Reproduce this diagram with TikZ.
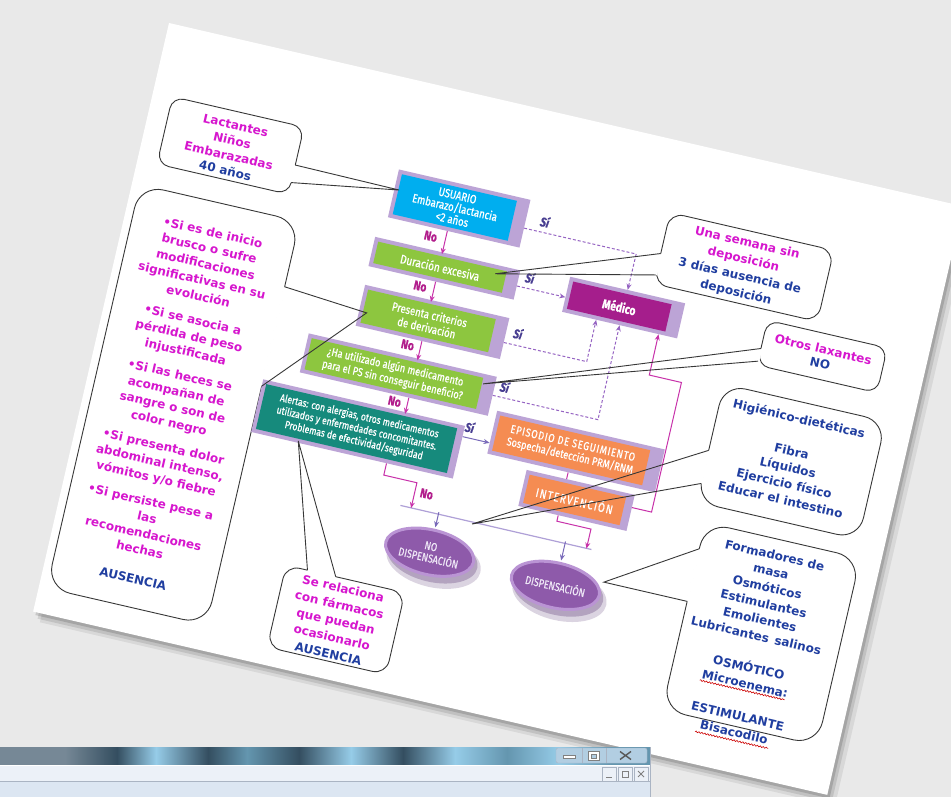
\documentclass[tikz,border=0pt]{standalone}
\usepackage{fontspec}
\setmainfont{DejaVu Sans}
\newfontfamily\flowfont[FakeStretch=0.8, FakeBold=0.7]{Fira Sans}
\usetikzlibrary{arrows.meta,shapes.geometric,decorations.pathmorphing}
\definecolor{bgcol}{RGB}{233,233,233}
\definecolor{magtxt}{RGB}{214,22,206}
\definecolor{bluetxt}{RGB}{32,62,160}
\definecolor{cyanbox}{RGB}{0,174,239}
\definecolor{greenbox}{RGB}{141,198,63}
\definecolor{tealbox}{RGB}{22,138,124}
\definecolor{medbox}{RGB}{165,30,140}
\definecolor{orbox}{RGB}{245,140,82}
\definecolor{lavframe}{RGB}{188,164,214}
\definecolor{dashcol}{RGB}{150,100,195}
\definecolor{magline}{RGB}{200,50,170}
\definecolor{sicol}{RGB}{72,62,145}
\definecolor{nocol}{RGB}{178,30,140}
\definecolor{ellfill}{RGB}{142,90,170}
\definecolor{ellring}{RGB}{186,148,212}
\definecolor{ellshadow}{RGB}{60,20,90}
\definecolor{elltxt}{RGB}{238,230,246}
\definecolor{barcol}{RGB}{175,160,215}
\definecolor{lavarrcol}{RGB}{120,105,185}
\definecolor{outl}{RGB}{55,55,55}
\definecolor{aeA}{RGB}{118,136,150}
\definecolor{aeD}{RGB}{52,78,96}
\definecolor{aeL}{RGB}{150,204,232}
\definecolor{aeM}{RGB}{100,150,175}
\definecolor{winrowa}{RGB}{236,241,248}
\definecolor{winrowb}{RGB}{220,230,242}
\definecolor{winedge}{RGB}{170,180,195}
\definecolor{winbtn}{RGB}{178,206,226}
\pgfdeclarehorizontalshading{aeroshade}{100bp}{color(0bp)=(aeA); color(25bp)=(aeA); color(30bp)=(aeA); color(34bp)=(aeD); color(37bp)=(aeL); color(41bp)=(aeD); color(44bp)=(aeM); color(48bp)=(aeD); color(52bp)=(aeL); color(56bp)=(aeD); color(60bp)=(aeL); color(64bp)=(aeM); color(68bp)=(aeL); color(72bp)=(aeM); color(75bp)=(aeM); color(100bp)=(aeM)}

\newcommand\flowbx[9]{%
  \fill[lavframe] (#3-4,#4-4) rectangle (#5+#7,#6+4);
  \node[flowbox, fill=#2, minimum width={#5-#3}, minimum height={#6-#4}, font={\flowfont#8\selectfont}] (#1) at ({(#3+#5)/2},{(#4+#6)/2}) {#9};}

\begin{document}
\begin{tikzpicture}[x=1pt,y=-1pt,
  flowbox/.style={rectangle, inner sep=1pt, text=white, align=center},
  callbox/.style={draw=outl, line width=0.9pt, fill=white},
  cover/.style={draw=white, line width=2.6pt},
  ptr/.style={draw=outl, line width=0.9pt, line join=miter},
  calltxt/.style={font=\bfseries\fontsize{12}{#1}\selectfont, align=center, inner sep=0pt},
  nolab/.style={font=\flowfont\bfseries\fontsize{13}{13}\selectfont, text=nocol, inner sep=0pt},
  silab/.style={font=\flowfont\bfseries\itshape\fontsize{13}{13}\selectfont, text=sicol, inner sep=0pt},
  magarr/.style={draw=magline, line width=1pt, -{Stealth[length=6pt,width=5pt]}},
  magln/.style={draw=magline, line width=1pt},
  dasharr/.style={draw=dashcol, line width=1pt, dash pattern=on 3pt off 2pt, -{Stealth[length=6pt,width=5pt]}},
  lavarr/.style={draw=lavarrcol, line width=1pt, -{Stealth[length=6pt,width=5pt]}},
  ellnode/.style={ellipse, fill=ellfill, draw=ellring, line width=3pt, minimum width=90, minimum height=45, inner sep=0pt, align=center, text=elltxt, font=\flowfont\fontsize{11.5}{12}\selectfont},
  squig/.style={draw=red!80!black, line width=0.6pt, decorate, decoration={snake, amplitude=0.7pt, segment length=3pt}}]
\useasboundingbox (0,0) rectangle (951,797);
\clip (0,0) rectangle (951,797);
\fill[bgcol] (0,0) rectangle (951,797);

\begin{scope}[shift={(169,23)}, rotate=-13, transform shape]
  % page shadow and page
  \fill[black, opacity=0.07] (9,9) rectangle (825,613);
  \fill[black, opacity=0.10] (6,6) rectangle (821,610);
  \fill[black, opacity=0.14] (3,3) rectangle (818,607);
  \fill[white] (0,0) rectangle (815,604);

  % callout boxes
  \draw[callbox, rounded corners=12pt] (20,71) rectangle (155,140);
  \draw[cover] (155,110) -- (155,128);
  \draw[callbox, rounded corners=24pt] (8,164) rectangle (172,578);
  \draw[cover] (172,231) -- (172,333);
  \draw[callbox, rounded corners=14pt] (531,72) rectangle (699,145);
  \draw[cover] (531,114) -- (531,136);
  \draw[callbox, rounded corners=12pt] (650,155) rectangle (773,201);
  \draw[cover] (650,184) -- (650,197);
  \draw[callbox, rounded corners=22pt] (622,227) rectangle (788,348);
  \draw[cover] (622,295) -- (622,329);
  \draw[callbox, rounded corners=24pt] (635,366) rectangle (794,558);
  \draw[cover] (635,393) -- (635,447);
  \draw[callbox, rounded corners=14pt] (236,502) rectangle (358,586);
  \draw[cover] (258,502) -- (287,502);

  % flowchart boxes
  \flowbx{usuario}{cyanbox}{261}{95}{379}{136}{13}{\fontsize{12}{12.3}}{USUARIO\\Embarazo/lactancia\\<2 años}
  \flowbx{durac}{greenbox}{253}{166}{385}{188}{13}{\fontsize{12.5}{13}}{Duración excesiva}
  \flowbx{presenta}{greenbox}{254}{215}{385}{249}{13}{\fontsize{12}{13.5}}{Presenta criterios\\de derivación}
  \flowbx{ha}{greenbox}{210}{275}{386}{307}{13}{\fontsize{11.5}{13.5}}{¿Ha utilizado algún medicamento\\para el PS sin conseguir beneficio?}
  \flowbx{alertas}{tealbox}{176}{330}{372}{376}{7}{\fontsize{10.7}{12.5}}{Alertas: con alergias, otros medicamentos\\utilizados y enfermedades concomitantes.\\Problemas de efectividad/seguridad}
  \flowbx{medico}{medbox}{452}{161}{553}{189}{13}{\bfseries\fontsize{13}{13}}{Médico}
  \flowbx{episodio}{orbox}{411}{308}{565}{344}{14}{\fontsize{11.5}{13}}{{\addfontfeature{LetterSpace=7}EPISODIO DE SEGUIMIENTO}\\Sospecha/detección PRM/RNM}
  \flowbx{interv}{orbox}{453}{359}{552}{388}{8}{\fontsize{12.5}{13}}{\addfontfeature{LetterSpace=9}INTERVENCIÓN}

  % ellipses
  \fill[ellshadow, opacity=0.18] (379,465) ellipse [x radius=48, y radius=26];
  \fill[ellshadow, opacity=0.25] (377,462) ellipse [x radius=46, y radius=24];
  \fill[ellshadow, opacity=0.18] (509,469) ellipse [x radius=48, y radius=26];
  \fill[ellshadow, opacity=0.25] (507,466) ellipse [x radius=46, y radius=24];
  \node[ellnode] (nodisp) at (373,457) {NO\\DISPENSACIÓN};
  \node[ellnode] (disp) at (503,461) {DISPENSACIÓN};

  % bar
  \coordinate (barL) at (334,418);
  \coordinate (barR) at (530,418);
  \draw[barcol, line width=1.2pt] (barL) -- (barR);

  % No arrows
  \draw[magarr] ([xshift=-2pt,yshift=-4pt]usuario.south) -- ([xshift=-1pt,yshift=2pt]durac.north);
  \draw[magarr] ([xshift=-1pt,yshift=-4pt]durac.south) -- ([xshift=-1.5pt,yshift=2pt]presenta.north);
  \draw[magarr] ([xshift=-1.5pt,yshift=-4pt]presenta.south) -- ([xshift=20pt,yshift=2pt]ha.north);
  \draw[magarr] ([xshift=20pt,yshift=-4pt]ha.south) -- ([xshift=44pt,yshift=2pt]alertas.north);
  \draw[magarr] ([xshift=37pt,yshift=-4pt]alertas.south) -- ++(0,12) -- ++(34,0) -- ++(0,26);
  \draw[magln] ([xshift=2pt,yshift=-4pt]episodio.south) -- ([xshift=-12.5pt,yshift=4pt]interv.north);
  \draw[magarr] ([xshift=-12.5pt,yshift=-4pt]interv.south) -- ++(0,6) -- ++(35,0) -- ++(0,20);
  \draw[magarr] ([xshift=8pt,yshift=5.5pt]interv.east) -- ++(20,0) -- ++(0,-133) -- ++(-33,0) -- ([xshift=44.5pt,yshift=-4pt]medico.south);

  % dashed Si arrows
  \draw[dasharr] ([xshift=13pt,yshift=-4.5pt]usuario.east) -- ++(115,0) -- ([xshift=4.5pt,yshift=4pt]medico.north);
  \draw[dasharr] ([xshift=13pt,yshift=-1pt]durac.east) -- ([xshift=-4pt,yshift=-3pt]medico.west);
  \draw[dasharr] ([xshift=13pt,yshift=-4pt]presenta.east) -- ++(85,0) -- ([xshift=-19.5pt,yshift=-4pt]medico.south);
  \draw[dasharr] ([xshift=13pt,yshift=1pt]ha.east) -- ++(108,0) -- ([xshift=4.5pt,yshift=-4pt]medico.south);
  \draw[lavarr] ([xshift=7pt,yshift=16pt]alertas.east) -- ([xshift=-4pt,yshift=-11pt]episodio.west);
  \draw[lavarr] ([yshift=17pt]nodisp.north) -- ([yshift=1.5pt]nodisp.north);
  \draw[lavarr] ([yshift=21pt]disp.north) -- ([yshift=1.5pt]disp.north);

  % labels
  \node[nolab] (no1) at (303,149) {No};
  \node[nolab] (no2) at (304,200) {No};
  \node[nolab] (no3) at (305,260) {No};
  \node[nolab] (no4) at (305,318) {No};
  \node[nolab] (no5) at (357,401) {No};
  \node[silab] (si1) at (411,109) {Sí};
  \node[silab] (si2) at (409,167) {Sí};
  \node[silab] (si3) at (410,224) {Sí};
  \node[silab] (si4) at (409,279) {Sí};
  \node[silab] (si5) at (384,326) {Sí};

  % pointer tips
  \coordinate (tLact) at ([xshift=1pt,yshift=4.5pt]usuario.west);
  \coordinate (tUna) at ([xshift=-11pt,yshift=6pt]durac.east);
  \coordinate (tOtros) at ([xshift=1pt,yshift=10pt]ha.east);
  \coordinate (tHig) at (408,420);
  \coordinate (tForm) at ([yshift=14pt]disp.east);
  \coordinate (tBig) at ([xshift=4pt,yshift=-6pt]presenta.west);
  \coordinate (tSerel) at ([xshift=-54pt,yshift=-2pt]alertas.south);

  \draw[ptr] (155,110) -- (tLact) -- (155,128);
  \draw[ptr] (172,231) -- (tBig) -- (172,333);
  \draw[ptr] (531,114) -- (tUna) -- (531,136);
  \draw[ptr] (650,184) -- (tOtros) -- (650,197);
  \draw[ptr] (622,295) -- (tHig) -- (622,329);
  \draw[ptr] (635,393) -- (tForm) -- (635,447);
  \draw[ptr] (258,502) -- (tSerel) -- (287,502);

  % callout texts
  \node[calltxt=15.5, text=magtxt] (lacttxt) at (88,108) {Lactantes\\Niños\\Embarazadas\\\textcolor{bluetxt}{40 años}};
  \node[calltxt=16.3, text=magtxt] (bigtxt) at (90,372) {•Si es de inicio\\brusco o sufre\\modificaciones\\significativas en su\\evolución\\[8pt]•Si se asocia a\\pérdida de peso\\injustificada\\[8pt]•Si las heces se\\acompañan de\\sangre o son de\\color negro\\[8pt]•Si presenta dolor\\abdominal intenso,\\vómitos y/o fiebre\\[8pt]•Si persiste pese a\\las\\recomendaciones\\hechas\\[14pt]\textcolor{bluetxt}{AUSENCIA}};
  \node[calltxt=17, text=magtxt] (unatxt) at (613,110) {Una semana sin\\deposición\\\textcolor{bluetxt}{3 días ausencia de}\\\textcolor{bluetxt}{deposición}};
  \node[calltxt=14.5, text=magtxt] (otrostxt) at (711,178) {Otros laxantes\\\textcolor{bluetxt}{NO}};
  \node[calltxt=16.6, text=bluetxt] (higtxt) at (703,285) {Higiénico-dietéticas\\[16.6pt]Fibra\\Líquidos\\Ejercicio físico\\Educar el intestino};
  \node[calltxt=16.5, text=bluetxt] (formtxt) at (710,473) {Formadores de\\masa\\Osmóticos\\Estimulantes\\Emolientes\\Lubricantes\enspace salinos\\[16.5pt]OSMÓTICO\\Microenema:\\[16.5pt]ESTIMULANTE\\Bisacodilo};
  \node[calltxt=16.7, text=magtxt] (sereltxt) at (297,545) {Se relaciona\\con fármacos\\que puedan\\ocasionarlo\\\textcolor{bluetxt}{AUSENCIA}};
  \draw[squig] (665,521) -- (752,521);
  \draw[squig] (672,572) -- (747,572);
\end{scope}

% window strip at the bottom
\shade[shading=aeroshade] (0,747) rectangle (650,765);
\fill[winrowa] (0,765) rectangle (650,782);
\fill[winrowb] (0,782) rectangle (650,797);
\draw[white, line width=1pt] (0,765.5) -- (650,765.5);
\draw[winedge] (0,781.5) -- (650,781.5);
\draw[winedge, line width=1pt] (650.5,747) -- (650.5,797);
\draw[winedge, fill=winbtn, rounded corners=2pt] (556,748) rectangle (647,763);
\draw[winedge] (582,748) -- (582,763) (606,748) -- (606,763);
\draw[gray, fill=white] (563,755) rectangle (575,758.5);
\draw[gray, fill=white] (588,751.5) rectangle (599,760.5);
\draw[gray, fill=winbtn] (591,754) rectangle (596,758);
\draw[gray!70!black, line width=1.4pt] (620,751.5) -- (631,759.5) (620,759.5) -- (631,751.5);
\draw[winedge, fill=winrowa] (602,767) rectangle (616,781);
\draw[winedge, fill=winrowa] (618,767) rectangle (632,781);
\draw[winedge, fill=winrowa] (634,767) rectangle (648,781);
\draw[gray] (606,777) -- (612,777);
\draw[gray] (622,771) rectangle (628,777);
\draw[gray, line width=0.9pt] (638,771) -- (644,777) (638,777) -- (644,771);
\end{tikzpicture}
\end{document}
